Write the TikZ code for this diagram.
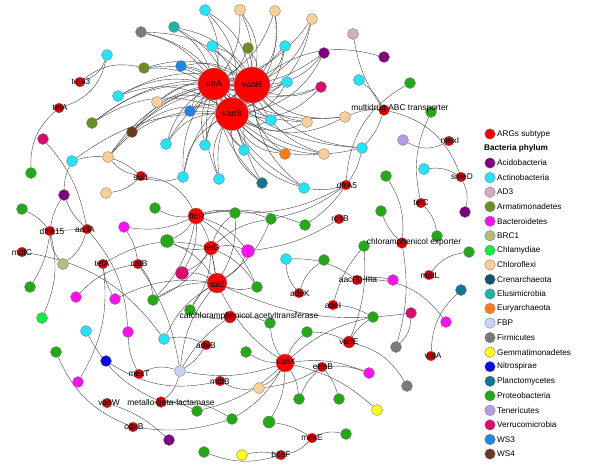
\documentclass[tikz,border=0pt]{standalone}
\usepackage{fontspec}
\setmainfont{Liberation Sans}
\usetikzlibrary{backgrounds}
\definecolor{cHub}{HTML}{FF0000}
\definecolor{cArg}{HTML}{DA0000}
\definecolor{cAcido}{HTML}{800080}
\definecolor{cActino}{HTML}{22E4FA}
\definecolor{cAD3}{HTML}{D9A9C2}
\definecolor{cArmat}{HTML}{6B8E23}
\definecolor{cBact}{HTML}{FF10F0}
\definecolor{cBRC}{HTML}{B7BC7A}
\definecolor{cChlam}{HTML}{10EE40}
\definecolor{cChlor}{HTML}{FDCF94}
\definecolor{cCren}{HTML}{0B5570}
\definecolor{cElus}{HTML}{1FB3A5}
\definecolor{cEury}{HTML}{FF7A14}
\definecolor{cFBP}{HTML}{C8D2FA}
\definecolor{cFirm}{HTML}{7A7A7A}
\definecolor{cGemm}{HTML}{FFFF14}
\definecolor{cNitro}{HTML}{0A0AE6}
\definecolor{cPlanc}{HTML}{137596}
\definecolor{cProt}{HTML}{22AA14}
\definecolor{cTene}{HTML}{B49CEA}
\definecolor{cVerr}{HTML}{DC0B6B}
\definecolor{cWSthree}{HTML}{1E86E6}
\definecolor{cWSfour}{HTML}{6B3A1C}
\begin{document}
\begin{tikzpicture}[x=1pt,y=-1pt,
  pn/.style={circle, draw=black!55, line width=0.3pt, minimum size=11pt, inner sep=0pt},
  arg/.style={circle, draw=black!45, line width=0.3pt, fill=cArg, minimum size=10pt, inner sep=0pt},
  hub/.style={circle, draw=black!45, line width=0.3pt, fill=cHub, inner sep=0pt, font=\fontsize{8.6}{9}\selectfont},
  lab/.style={font=\fontsize{8.4}{9}\selectfont, inner sep=0pt, text=black},
  ed/.style={draw=black!75, line width=0.38pt},
  lgc/.style={circle, draw=black!55, line width=0.3pt, minimum size=10.5pt, inner sep=0pt},
  lgt/.style={anchor=west, inner sep=0pt, font=\fontsize{8.2}{9}\selectfont}]
\useasboundingbox (0,0) rectangle (600,475);

% ---------- hubs ----------
\node[hub, minimum size=32pt] (otrA) at (214,84) {otrA};
\node[hub, minimum size=36pt] (vanR) at (252,85) {vanR};
\node[hub, minimum size=33pt] (vanS) at (232,114) {vanS};

% ---------- top peripheral nodes ----------
\node[pn, fill=cElus] (a1) at (174,27) {};
\node[pn, fill=cFirm] (a2) at (141,32) {};
\node[pn, fill=cActino] (a3) at (205,10) {};
\node[pn, fill=cActino] (a4) at (212,46) {};
\node[pn, fill=cWSthree] (a5) at (181,66) {};
\node[pn, fill=cActino] (a6) at (107,55) {};
\node[pn, fill=cArmat] (a7) at (144,68) {};
\node[pn, fill=cActino] (a8) at (118,96) {};
\node[pn, fill=cChlor] (a9) at (157,102) {};
\node[pn, fill=cWSthree] (a10) at (190,111) {};
\node[pn, fill=cArmat] (a11) at (92,123) {};
\node[pn, fill=cWSfour] (a12) at (132,132) {};
\node[pn, fill=cVerr] (a13) at (43,139) {};
\node[pn, fill=cActino] (a14) at (166,144) {};
\node[pn, fill=cActino] (a15) at (205,145) {};
\node[pn, fill=cActino] (a16) at (72,161) {};
\node[pn, fill=cChlor] (a17) at (108,157) {};
\node[pn, fill=cChlor] (a18) at (240,10) {};
\node[pn, fill=cChlor] (a19) at (275,11) {};
\node[pn, fill=cChlor] (a20) at (312,19) {};
\node[pn, fill=cArmat] (a21) at (248,48) {};
\node[pn, fill=cActino] (a22) at (285,46) {};
\node[pn, fill=cAcido] (a23) at (324,53) {};
\node[pn, fill=cAD3] (a24) at (353,34) {};
\node[pn, fill=cAcido] (a25) at (384,57) {};
\node[pn, fill=cActino] (a26) at (287,82) {};
\node[pn, fill=cVerr] (a27) at (321,87) {};
\node[pn, fill=cActino] (a28) at (359,80) {};
\node[pn, fill=cProt] (a29) at (410,83) {};
\node[pn, fill=cActino] (a30) at (271,120) {};
\node[pn, fill=cChlor] (a31) at (307,122) {};
\node[pn, fill=cChlor] (a32) at (345,117) {};
\node[pn, fill=cProt] (a33) at (431,112) {};
\node[pn, fill=cTene] (a34) at (403,140) {};
\node[pn, fill=cActino] (a35) at (244,150) {};
\node[pn, fill=cEury] (a36) at (285,154) {};
\node[pn, fill=cChlor] (a37) at (324,154) {};
\node[pn, fill=cActino] (a38) at (362,148) {};
\node[pn, fill=cPlanc] (a39) at (262,183) {};
\node[pn, fill=cActino] (a40) at (304,188) {};
\node[pn, fill=cActino] (a41) at (219,179) {};
\node[pn, fill=cActino] (a42) at (183,177) {};
\node[pn, fill=cChlor] (a43) at (106,193) {};
\node[pn, fill=cProt] (a44) at (31,173) {};
\node[pn, fill=cAcido] (a45) at (64,195) {};
\node[pn, fill=cProt] (a46) at (22,209) {};

% ---------- middle nodes ----------
\node[pn, fill=cProt] (b1) at (155,208) {};
\node[pn, fill=cBact] (b2) at (124,227) {};
\node[pn, fill=cProt, minimum size=13pt] (b3) at (167,241) {};
\node[pn, fill=cProt] (b4) at (235,213) {};
\node[pn, fill=cProt] (b5) at (271,219) {};
\node[pn, fill=cProt] (b6) at (305,225) {};
\node[pn, fill=cBact, minimum size=13pt] (b7) at (248,251) {};
\node[pn, fill=cVerr, minimum size=13pt] (b8) at (182,273) {};
\node[pn, fill=cBRC] (b9) at (63,264) {};
\node[pn, fill=cActino] (b10) at (286,259) {};
\node[pn, fill=cProt] (b11) at (324,260) {};
\node[pn, fill=cProt] (b12) at (364,246) {};
\node[pn, fill=cProt] (b13) at (386,176) {};
\node[pn, fill=cProt] (b14) at (381,211) {};
\node[pn, fill=cActino] (b15) at (424,169) {};
\node[pn, fill=cAcido] (b16) at (465,212) {};
\node[pn, fill=cProt] (b17) at (437,236) {};
\node[pn, fill=cProt] (b18) at (469,252) {};
\node[pn, fill=cBact] (b19) at (393,280) {};
\node[pn, fill=cPlanc] (b20) at (461,290) {};
\node[pn, fill=cProt] (b21) at (257,287) {};
\node[pn, fill=cProt] (b22) at (30,287) {};
\node[pn, fill=cBact] (b23) at (76,297) {};
\node[pn, fill=cBact] (b24) at (115,299) {};
\node[pn, fill=cProt] (b25) at (153,300) {};
\node[pn, fill=cProt] (b26) at (190,310) {};

% ---------- bottom nodes ----------
\node[pn, fill=cChlam] (c1) at (42,318) {};
\node[pn, fill=cActino] (c2) at (86,331) {};
\node[pn, fill=cBact] (c3) at (128,332) {};
\node[pn, fill=cActino] (c4) at (164,339) {};
\node[pn, fill=cProt] (c5) at (56,352) {};
\node[pn, fill=cNitro] (c6) at (106,361) {};
\node[pn, fill=cFBP] (c7) at (180,371) {};
\node[pn, fill=cBact] (c8) at (78,382) {};
\node[pn, fill=cProt] (c9) at (197,411) {};
\node[pn, fill=cProt] (c10) at (232,419) {};
\node[pn, fill=cAcido] (c11) at (169,440) {};
\node[pn, fill=cProt] (c12) at (204,452) {};
\node[pn, fill=cGemm] (c13) at (242,455) {};
\node[pn, fill=cProt] (c14) at (270,323) {};
\node[pn, fill=cProt] (c15) at (373,317) {};
\node[pn, fill=cVerr] (c16) at (411,313) {};
\node[pn, fill=cBact] (c17) at (446,322) {};
\node[pn, fill=cProt] (c18) at (307,332) {};
\node[pn, fill=cProt] (c19) at (246,352) {};
\node[pn, fill=cBact] (c20) at (369,373) {};
\node[pn, fill=cFirm] (c21) at (396,347) {};
\node[pn, fill=cFirm] (c22) at (407,386) {};
\node[pn, fill=cChlor] (c23) at (259,388) {};
\node[pn, fill=cProt] (c24) at (299,399) {};
\node[pn, fill=cProt] (c25) at (339,399) {};
\node[pn, fill=cGemm] (c26) at (377,410) {};
\node[pn, fill=cProt, minimum size=12pt] (c27) at (269,422) {};
\node[pn, fill=cProt] (c28) at (346,434) {};

% ---------- ARG nodes ----------
\node[arg] (tetW) at (80,82) {};
\node[arg] (tetAa) at (59,108) {};
\node[arg] (sulI) at (141,176) {};
\node[arg] (dfrAf) at (50,231) {};
\node[arg] (aadA) at (87,229) {};
\node[arg] (mdtC) at (22,252) {};
\node[arg] (tetAb) at (103,264) {};
\node[arg] (catB) at (138,264) {};
\node[arg, fill=cHub, minimum size=16pt] (floR) at (196,216) {};
\node[arg, fill=cHub, minimum size=14pt] (tetG) at (211,248) {};
\node[arg, fill=cHub, minimum size=20pt] (sulII) at (217,283) {};
\node[arg] (dfrA) at (346,185) {};
\node[arg] (rosB) at (339,219) {};
\node[arg, minimum size=11pt] (mabc) at (384,110) {};
\node[arg] (mexI) at (449,141) {};
\node[arg] (smeD) at (461,177) {};
\node[arg] (tetC) at (421,203) {};
\node[arg, minimum size=11pt] (cexp) at (402,243) {};
\node[arg] (mdtL) at (429,275) {};
\node[arg] (aac) at (357,280) {};
\node[arg] (adeK) at (299,293) {};
\node[arg] (adeI) at (333,305) {};
\node[arg] (vatA) at (431,356) {};
\node[arg, minimum size=12pt] (cat) at (230,317) {};
\node[arg] (adeB) at (206,345) {};
\node[arg] (mexT) at (139,374) {};
\node[arg] (mdtB) at (220,381) {};
\node[arg] (vanW) at (107,403) {};
\node[arg, minimum size=11pt] (mbl) at (161,402) {};
\node[arg] (oqxB) at (133,427) {};
\node[arg, minimum size=12pt] (vanE) at (349,342) {};
\node[arg, fill=cHub, minimum size=18pt] (vanX) at (285,363) {};
\node[arg] (ermB) at (322,367) {};
\node[arg] (mexE) at (312,438) {};
\node[arg] (bpeF) at (281,455) {};

% ---------- edges ----------
\begin{scope}[on background layer]
\foreach \n in {a1,a2,a3,a4,a5,a7,a8,a9,a10,a11,a12,a14,a15,a17,a18,a19,a20,a21,a22,a23,a26,a27,a30,a31,a32,a35,a36,a37,a38,a39,a40,a41,a42}{
  \draw[ed] (\n) to[bend left=18] (otrA);
  \draw[ed] (\n) to[bend left=22] (vanR);
  \draw[ed] (\n) to[bend left=26] (vanS);
}
\draw[ed] (a6) to[bend left=25] (tetW);
\draw[ed] (a7) to[bend right=25] (tetW);
\draw[ed] (a6) to[bend left=30] (tetAa);
\draw[ed] (tetAa) to[bend right=25] (a44);
\draw[ed] (a13) to[bend left=15] (aadA);
\draw[ed] (a16) to[bend left=18] (vanS);
\draw[ed] (a16) to[bend right=12] (a45);
\draw[ed] (a24) to[bend right=12] (mabc);
\draw[ed] (a25) to[bend right=25] (vanR);
\draw[ed] (a28) to[bend left=12] (mabc);
\draw[ed] (a32) to[bend left=12] (mabc);
\draw[ed] (a38) to[bend right=12] (mabc);
\draw[ed] (a29) to[bend right=28] (dfrA);
\draw[ed] (mabc) to[bend left=28] (smeD);
\draw[ed] (a33) to[bend right=18] (tetC);
\draw[ed] (a34) to[bend right=28] (mexI);
\draw[ed] (sulI) to[bend left=18] (a17);
\draw[ed] (sulI) to[bend left=18] (a43);
\draw[ed] (sulI) to[bend right=18] (a42);
\draw[ed] (a16) to[bend left=28] (sulI);
\draw[ed] (sulI) to[bend left=28] (floR);
\draw[ed] (dfrAf) to[bend left=12] (a45);
\draw[ed] (dfrAf) to[bend right=12] (a46);
\draw[ed] (dfrAf) to[bend right=18] (b9);
\draw[ed] (dfrAf) to[bend left=12] (b22);
\draw[ed] (dfrAf) to[bend left=18] (c1);
\draw[ed] (dfrAf) -- (aadA);
\draw[ed] (aadA) to[bend left=12] (a45);
\draw[ed] (aadA) to[bend left=18] (b9);
\draw[ed] (aadA) to[bend left=18] (c3);
\draw[ed] (mdtC) to[bend left=22] (c4);
\draw[ed] (tetAb) to[bend left=18] (c8);
\draw[ed] (tetAb) to[bend left=22] (tetG);
\draw[ed] (tetAb) to[bend right=12] (b24);
\draw[ed] (catB) to[bend right=12] (b2);
\draw[ed] (catB) to[bend left=18] (b25);
\draw[ed] (catB) to[bend left=12] (c7);
\draw[ed] (b23) to[bend left=18] (catB);
\foreach \n in {b1,b2,b3,b4,b5,b6,b7,b8,b21,b25}{\draw[ed] (floR) to[bend left=16] (\n);}
\foreach \n in {b3,b4,b5,b7,b8,b21,b25,b26}{\draw[ed] (tetG) to[bend left=16] (\n);}
\foreach \n in {b3,b4,b5,b7,b8,b21,b25,b26,b24,c4,c7,c16}{\draw[ed] (sulII) to[bend right=16] (\n);}
\draw[ed] (floR) to[bend left=8] (tetG);
\draw[ed, line width=0.7pt] (tetG) -- (sulII);
\draw[ed] (dfrA) to[bend right=12] (a38);
\draw[ed] (dfrA) to[bend left=12] (a40);
\draw[ed] (dfrA) to[bend left=14] (b4);
\draw[ed] (dfrA) to[bend left=12] (b5);
\draw[ed] (dfrA) to[bend left=10] (b6);
\draw[ed] (rosB) to[bend left=12] (b7);
\draw[ed] (smeD) to[bend right=18] (b15);
\draw[ed] (smeD) to[bend left=18] (b16);
\draw[ed] (tetC) to[bend left=18] (b17);
\draw[ed] (cexp) to[bend right=18] (b13);
\draw[ed] (cexp) to[bend left=12] (b14);
\draw[ed] (cexp) to[bend left=12] (c21);
\draw[ed] (mdtL) to[bend left=22] (b18);
\draw[ed] (vatA) to[bend left=22] (b20);
\draw[ed] (aac) to[bend left=12] (b19);
\draw[ed] (aac) to[bend left=28] (c17);
\draw[ed] (aac) to[bend right=18] (b10);
\draw[ed] (adeK) to[bend left=18] (b10);
\draw[ed] (adeK) to[bend left=18] (b11);
\draw[ed] (adeI) to[bend left=12] (b12);
\draw[ed] (adeI) to[bend left=12] (c15);
\draw[ed] (cat) to[bend left=18] (b26);
\draw[ed] (cat) to[bend left=12] (c14);
\draw[ed] (cat) to[bend right=12] (c7);
\draw[ed] (adeB) to[bend right=18] (c4);
\draw[ed] (adeB) to[bend left=12] (c7);
\draw[ed] (mexT) to[bend left=22] (c7);
\draw[ed] (mexT) to[bend left=12] (c3);
\draw[ed] (mdtB) to[bend left=22] (c6);
\draw[ed] (mdtB) to[bend right=18] (c23);
\draw[ed] (vanW) to[bend left=12] (c11);
\draw[ed] (mbl) to[bend left=18] (c2);
\draw[ed] (mbl) to[bend right=18] (c7);
\draw[ed] (mbl) to[bend left=12] (c9);
\draw[ed] (mbl) to[bend left=18] (c10);
\draw[ed] (oqxB) to[bend left=22] (c5);
\draw[ed] (oqxB) to[bend right=12] (c10);
\draw[ed] (vanE) to[bend right=12] (c18);
\draw[ed] (vanE) to[bend left=12] (c15);
\draw[ed] (vanE) to[bend left=22] (c22);
\draw[ed] (vanE) to[bend right=12] (b12);
\draw[ed] (c16) to[bend left=22] (c21);
\foreach \n in {c14,c18,c19,c20,c24,c27,c10,c9,c23,c26,c15,c7}{\draw[ed] (vanX) to[bend left=14] (\n);}
\draw[ed] (vanX) to[bend left=14] (sulII);
\draw[ed] (ermB) to[bend left=12] (c23);
\draw[ed] (ermB) to[bend left=12] (c25);
\draw[ed] (ermB) to[bend right=12] (c24);
\draw[ed] (ermB) to[bend left=12] (c20);
\draw[ed] (mexE) to[bend left=18] (c28);
\draw[ed] (mexE) to[bend right=12] (c27);
\draw[ed] (bpeF) to[bend left=18] (c12);
\draw[ed] (bpeF) to[bend right=12] (c13);
\draw[ed] (bpeF) to[bend right=18] (mexE);
\end{scope}

% ---------- labels ----------
\node[lab] (l1) at (81,82) {tet43};
\node[lab] (l2) at (60,108) {tetA};
\node[lab] (l3) at (141,177) {sul1};
\node[lab] (l4) at (52,231) {dfrA15};
\node[lab] (l5) at (85,229) {aadA};
\node[lab] (l6) at (22,252) {mdtC};
\node[lab] (l7) at (102,264) {tetA};
\node[lab] (l8) at (139,264) {catB};
\node[lab] (l9) at (197,216) {floR};
\node[lab] (l10) at (212,248) {tetG};
\node[lab] (l11) at (217,284) {sul2};
\node[lab] (l12) at (347,185) {dfrA5};
\node[lab] (l13) at (340,219) {rosB};
\node[lab] (l14) at (400,108) {multidrug ABC transporter};
\node[lab] (l15) at (450,141) {mexI};
\node[lab] (l16) at (462,177) {smeD};
\node[lab] (l17) at (421,203) {tetC};
\node[lab] (l18) at (414,242) {chloramphenicol exporter};
\node[lab] (l19) at (430,275) {mdtL};
\node[lab] (l20) at (358,280) {aac(3)-IIIa};
\node[lab] (l21) at (300,293) {adeK};
\node[lab] (l22) at (333,305) {adeI};
\node[lab] (l23) at (433,356) {vatA};
\node[lab] (l24) at (249,316) {catchloramphenicol acetyltransferase};
\node[lab] (l25) at (206,345) {adeB};
\node[lab] (l26) at (139,374) {mexT};
\node[lab] (l27) at (220,381) {mdtB};
\node[lab] (l28) at (109,403) {vanW};
\node[lab] (l29) at (171,402) {metallo-beta-lactamase};
\node[lab] (l30) at (134,427) {oqxB};
\node[lab] (l31) at (349,342) {vanE};
\node[lab] (l32) at (286,362) {vanX};
\node[lab] (l33) at (323,367) {ermB};
\node[lab] (l34) at (312,438) {mexE};
\node[lab] (l35) at (281,455) {bpeF};

% ---------- legend ----------
\node[lgc, fill=cHub] (g0) at (490,134) {};
\node[lgt] (t0) at (497,134) {ARGs subtype};
\node[lgt, font=\fontsize{8.2}{9}\selectfont\bfseries] (th) at (484,148.6) {Bacteria phylum};
\foreach \c/\t [count=\i from 0] in {cAcido/Acidobacteria, cActino/Actinobacteria, cAD3/AD3, cArmat/Armatimonadetes, cBact/Bacteroidetes, cBRC/BRC1, cChlam/Chlamydiae, cChlor/Chloroflexi, cCren/Crenarchaeota, cElus/Elusimicrobia, cEury/Euryarchaeota, cFBP/FBP, cFirm/Firmicutes, cGemm/Gemmatimonadetes, cNitro/Nitrospirae, cPlanc/Planctomycetes, cProt/Proteobacteria, cTene/Tenericutes, cVerr/Verrucomicrobia, cWSthree/WS3, cWSfour/WS4}{
  \node[lgc, fill=\c] (lg\i) at (490,163+14.55*\i) {};
  \node[lgt] (lt\i) at (497,163+14.55*\i) {\t};
}
\end{tikzpicture}
\end{document}
